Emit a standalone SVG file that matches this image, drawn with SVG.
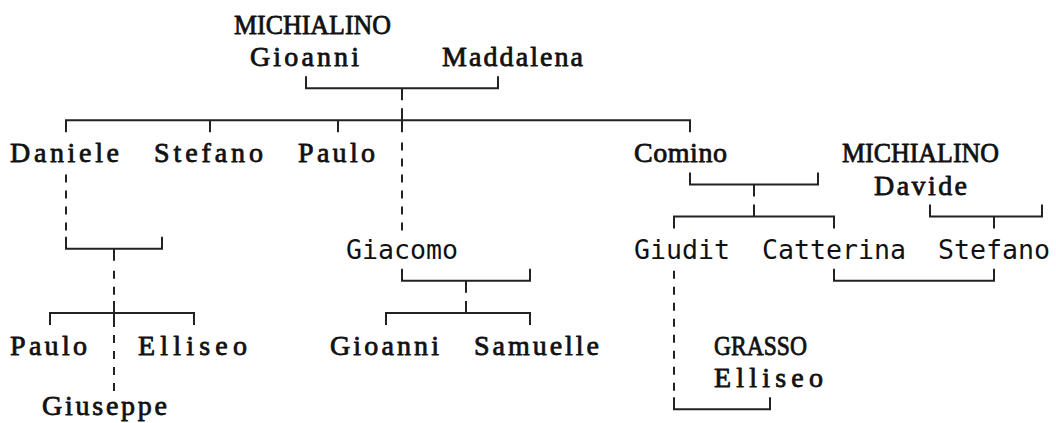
<svg xmlns="http://www.w3.org/2000/svg" width="1056" height="423" viewBox="0 0 1056 423">
<style>
.bg{fill:#ffffff}
.s{font-family:"Liberation Serif","Times New Roman",serif;font-size:28px;fill:#111;stroke:#111;stroke-width:0.8;stroke-linejoin:round}
.m{font-family:"DejaVu Sans Mono","Liberation Mono",monospace;font-size:26.6px;fill:#111}
.ln{fill:none;stroke:#222;stroke-width:2;stroke-linecap:butt}
.dash{fill:none;stroke:#222;stroke-width:2;stroke-dasharray:8 8}
</style>
<rect class="bg" x="0" y="0" width="1056" height="423"/>
<g id="connectors">
<path class="ln" d="M306 76.2V88.2H498V76.2M402 88.2V100.2"/>
<path class="ln" d="M66 132.3V120.3H690V132.3M210 120.3V132.3M338 120.3V132.3M402 108.3V132.3"/>
<path class="dash" d="M402 142.4V232.7"/>
<path class="dash" d="M66 174.5V232.7"/>
<path class="ln" d="M66 236.7V248.7H162V236.7M114 248.7V260.7"/>
<path class="dash" d="M114 270.8V296.9"/>
<path class="ln" d="M50 324.9V312.9H194V324.9M114 300.9V326.9"/>
<path class="dash" d="M114 335V393.2"/>
<path class="ln" d="M402 268.8V280.8H530V268.8M466 280.8V292.8"/>
<path class="ln" d="M386 324.9V312.9H530V324.9M466 300.9V312.9"/>
<path class="ln" d="M690 172.5V184.5H818V172.5M754 184.5V196.5"/>
<path class="ln" d="M674 228.6V216.6H834V228.6M754 204.6V216.6"/>
<path class="ln" d="M930 204.6V216.6H1042V204.6M994 216.6V228.6"/>
<path class="ln" d="M834 268.8V280.8H994V268.8"/>
<path class="dash" d="M674 270.8V393.2"/>
<path class="ln" d="M674 397.2V409.2H770V397.2"/>
</g>
<g id="n-michialino-gioanni"><text class="s" x="234" y="34" textLength="157" lengthAdjust="spacingAndGlyphs">MICHIALINO</text><text class="s" x="250" y="66.1" textLength="109" lengthAdjust="spacing">Gioanni</text></g>
<g id="n-maddalena"><text class="s" x="442" y="66.1" textLength="141" lengthAdjust="spacing">Maddalena</text></g>
<g id="n-daniele"><text class="s" x="10" y="162.4" textLength="109" lengthAdjust="spacing">Daniele</text></g>
<g id="n-stefano1"><text class="s" x="154" y="162.4" textLength="109" lengthAdjust="spacing">Stefano</text></g>
<g id="n-paulo1"><text class="s" x="298" y="162.4" textLength="77" lengthAdjust="spacing">Paulo</text></g>
<g id="n-comino"><text class="s" x="634" y="162.4" textLength="93" lengthAdjust="spacing">Comino</text></g>
<g id="n-michialino-davide"><text class="s" x="842" y="162.4" textLength="157" lengthAdjust="spacingAndGlyphs">MICHIALINO</text><text class="s" x="874" y="194.5" textLength="93" lengthAdjust="spacing">Davide</text></g>
<g id="n-giacomo"><text class="m" x="346" y="258.7">Giacomo</text></g>
<g id="n-giudit"><text class="m" x="634" y="258.7">Giudit</text></g>
<g id="n-catterina"><text class="m" x="762" y="258.7">Catterina</text></g>
<g id="n-stefano2"><text class="m" x="938" y="258.7">Stefano</text></g>
<g id="n-paulo2"><text class="s" x="10" y="355" textLength="77" lengthAdjust="spacing">Paulo</text></g>
<g id="n-elliseo1"><text class="s" x="138" y="355" textLength="109" lengthAdjust="spacing">Elliseo</text></g>
<g id="n-giuseppe"><text class="s" x="42" y="415" textLength="125" lengthAdjust="spacing">Giuseppe</text></g>
<g id="n-gioanni2"><text class="s" x="330" y="355" textLength="109" lengthAdjust="spacing">Gioanni</text></g>
<g id="n-samuelle"><text class="s" x="474" y="355" textLength="125" lengthAdjust="spacing">Samuelle</text></g>
<g id="n-grasso-elliseo"><text class="s" x="714" y="355" textLength="93" lengthAdjust="spacingAndGlyphs">GRASSO</text><text class="s" x="714" y="387.1" textLength="109" lengthAdjust="spacing">Elliseo</text></g>
</svg>
